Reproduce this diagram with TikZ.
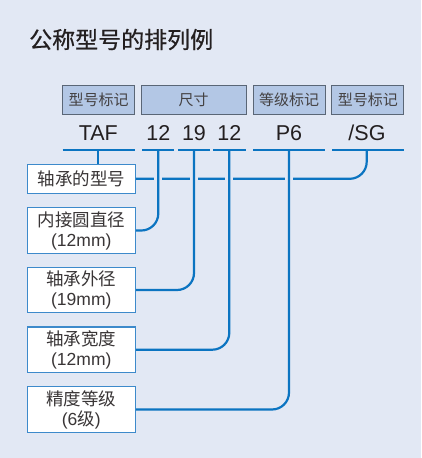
\documentclass[tikz,border=0pt]{standalone}
\usepackage{fontspec}
\setmainfont{Liberation Sans}
\newfontfamily\cjk{Noto Sans CJK SC}
\newfontfamily\cjkb[FakeBold=0.6]{Noto Sans CJK SC}
\definecolor{bg}{HTML}{E2E8F4}
\definecolor{hfill}{HTML}{B3C7E5}
\definecolor{hdraw}{HTML}{5A6676}
\definecolor{lblue}{HTML}{0B74C1}
\definecolor{bdraw}{HTML}{3D8ACB}
\definecolor{ink}{HTML}{231F20}
\begin{document}
\begin{tikzpicture}[x=1pt,y=-1pt,
  hdr/.style={draw=hdraw,fill=hfill,line width=1pt,minimum height=29pt,inner sep=0pt,text=ink!85,font=\cjk\fontsize{15}{18}\selectfont},
  code/.style={inner sep=0pt,text=ink,font=\fontsize{21.5}{24}\selectfont},
  lbox/.style={draw=bdraw,fill=white,line width=1.2pt,minimum width=108pt,inner sep=0pt,align=center,text=ink!90,font=\fontsize{17.5}{20}\selectfont},
  bar/.style={draw=lblue,line width=2.4pt},
  conn/.style={draw=lblue,line width=2.2pt,rounded corners=17pt},
  gap/.style={draw=bg,line width=5pt}]
\fill[bg] (0,0) rectangle (421,458);
\useasboundingbox (0,0) rectangle (421,458);
\node[anchor=west,inner sep=0pt,text=ink,font=\cjkb\fontsize{23}{27}\selectfont] (title) at (29,39.5) {公称型号的排列例};
% header boxes
\node[hdr,minimum width=72pt] (h1) at (98.7,99.5) {型号标记};
\node[hdr,minimum width=104.7pt] (h2) at (193.7,99.5) {尺寸};
\node[hdr,minimum width=71.7pt] (h3) at (289.2,99.5) {等级标记};
\node[hdr,minimum width=72.3pt] (h4) at (367.8,99.5) {型号标记};
% codes
\node[code] (t1) at (98.3,133) {TAF};
\node[code] (t2) at (158.3,133) {12};
\node[code] (t3) at (194,133) {19};
\node[code] (t4) at (229.3,133) {12};
\node[code] (t5) at (289,133) {P6};
\node[code] (t6) at (367,133) {/SG};
% bars
\coordinate (v1) at (98.3,150);
\coordinate (v2) at (158.3,150);
\coordinate (v3) at (194,150);
\coordinate (v4) at (229.3,150);
\coordinate (v5) at (289,150);
\coordinate (v6) at (366.7,150);
\draw[bar] (62.7,150) -- (134.7,150);
\draw[bar] (142,150) -- (174,150);
\draw[bar] (178,150) -- (210,150);
\draw[bar] (213,150) -- (246,150);
\draw[bar] (253.3,150) -- (325,150);
\draw[bar] (332,150) -- (404,150);
% lower boxes
\node[lbox,minimum height=29pt] (b1) at (81.3,178.8) {\cjk 轴承的型号};
\node[lbox,minimum height=45.6pt] (b2) at (81.3,230.5) {{\cjk 内接圆直径}\\(12mm)};
\node[lbox,minimum height=45.4pt] (b3) at (81.3,290) {{\cjk 轴承外径}\\(19mm)};
\node[lbox,minimum height=45.3pt] (b4) at (81.3,349.7) {{\cjk 轴承宽度}\\(12mm)};
\node[lbox,minimum height=45.6pt] (b5) at (81.3,409.5) {{\cjk 精度等级}\\(6{\cjk 级})};
% connectors
\draw[conn] (b1.east) -| (v6);
\foreach \v in {v2,v3,v4,v5}
  \draw[gap] ([xshift=-4pt]b1.east -| \v) -- ([xshift=4pt]b1.east -| \v);
\draw[conn] (v1) -- (v1 |- b1.north);
\draw[conn] (b2.east) -| (v2);
\draw[conn] (b3.east) -| (v3);
\draw[conn] (b4.east) -| (v4);
\draw[conn] (b5.east) -| (v5);
\end{tikzpicture}
\end{document}
